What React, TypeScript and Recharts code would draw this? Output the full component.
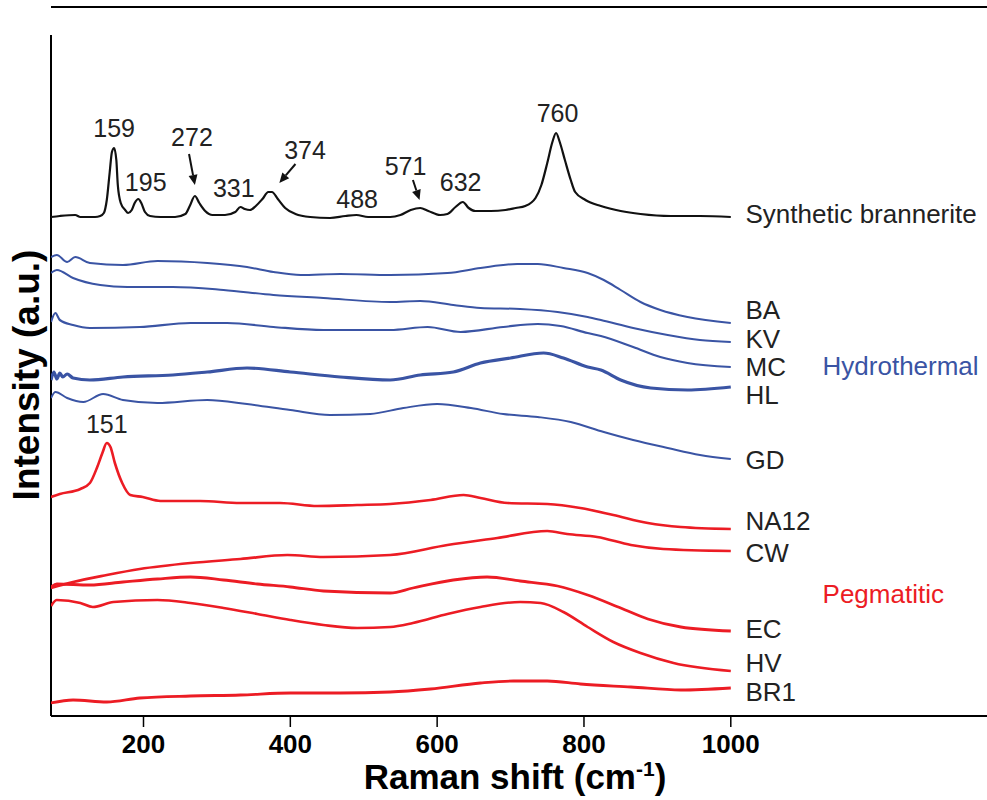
import { LineChart, Line, XAxis, YAxis, ReferenceLine, ReferenceDot } from "recharts";

const FONT = "'Liberation Sans', Arial, Helvetica, sans-serif";
const BLACK = "#111111";
const BLUE = "#3a54a4";
const RED = "#ec1c24";
const TEXT = "#222222";

// Raman shift (cm-1) vs stacked intensity (a.u., offset per sample)
const synthetic: [number, number][] = [
  [74, 499], [86, 500], [107, 501], [114, 499], [134, 499], [141, 500], [146, 503], [150, 516],
  [154, 544], [157, 564], [160, 568], [163, 556], [165, 531], [169, 513], [175, 506], [179, 503],
  [184, 506], [188, 513], [193, 517], [197, 513], [202, 504], [209, 500], [223, 499], [243, 499],
  [257, 502], [263, 510], [270, 520], [276, 513], [284, 505], [294, 501], [311, 501], [325, 504],
  [332, 509], [338, 507], [345, 506], [353, 510], [362, 517], [370, 524], [375, 524], [383, 517],
  [393, 508], [407, 502], [427, 499], [454, 498], [475, 500], [490, 501], [506, 499], [536, 499],
  [550, 501], [564, 506], [577, 508], [588, 505], [604, 501], [614, 502], [625, 509], [635, 514],
  [643, 508], [652, 505], [673, 505], [693, 506], [707, 508], [720, 510], [734, 518], [742, 531],
  [750, 553], [757, 574], [762, 583], [767, 574], [774, 556], [782, 536], [788, 524], [802, 516],
  [823, 510], [850, 505], [877, 502], [918, 500], [958, 500], [1000, 499],
];

const ba: [number, number][] = [
  [74, 459], [82, 461], [96, 454], [107, 459], [127, 453], [172, 451], [219, 455], [287, 453],
  [341, 449], [377, 444], [414, 441], [468, 442], [536, 441], [614, 443], [659, 448], [709, 452],
  [737, 452], [772, 448], [805, 443], [827, 436], [850, 426], [877, 414], [904, 406], [941, 399],
  [1000, 393],
];

const kv: [number, number][] = [
  [74, 443], [82, 446], [104, 438], [141, 431], [178, 429], [240, 429], [309, 426], [377, 421],
  [445, 418], [536, 414], [577, 415], [622, 411], [659, 408], [713, 407], [764, 404], [805, 399],
  [823, 396], [867, 388], [914, 381], [958, 376], [1000, 374],
];

const mc: [number, number][] = [
  [74, 394], [80, 403], [86, 396], [104, 391], [127, 388], [195, 389], [264, 393], [314, 393],
  [377, 389], [445, 386], [536, 386], [587, 389], [632, 384], [690, 389], [737, 392], [768, 390],
  [805, 383], [823, 380], [867, 369], [904, 359], [941, 353], [1000, 349],
];

const hl: [number, number][] = [
  [74, 336], [78, 344], [82, 337], [86, 343], [90, 339], [96, 342], [104, 338], [127, 336],
  [172, 339], [240, 341], [287, 344], [341, 348], [400, 344], [468, 339], [536, 336], [577, 341],
  [622, 344], [659, 353], [700, 358], [745, 363], [772, 358], [805, 349], [823, 346], [850, 336],
  [891, 328], [941, 326], [1000, 329],
];

const gd: [number, number][] = [
  [74, 318], [80, 324], [96, 318], [118, 314], [145, 322], [172, 316], [219, 313], [287, 316],
  [341, 312], [400, 306], [454, 301], [509, 302], [554, 308], [600, 312], [646, 308], [690, 302],
  [737, 299], [782, 294], [827, 284], [867, 276], [914, 268], [958, 261], [1000, 257],
];

const na12: [number, number][] = [
  [74, 219], [86, 222], [114, 227], [127, 233], [137, 249], [144, 263], [150, 273], [155, 269],
  [161, 253], [171, 233], [182, 221], [199, 219], [223, 215], [277, 215], [332, 213], [386, 213],
  [437, 210], [491, 211], [536, 212], [591, 216], [636, 221], [659, 218], [696, 213], [750, 212],
  [795, 208], [840, 201], [887, 193], [932, 189], [1000, 187],
];

const cw: [number, number][] = [
  [74, 128], [104, 134], [150, 141], [195, 147], [264, 153], [332, 157], [396, 161], [445, 159],
  [536, 161], [614, 171], [682, 178], [750, 185], [777, 182], [818, 179], [864, 171], [908, 167],
  [1000, 165],
];

const ec: [number, number][] = [
  [74, 129], [82, 132], [127, 131], [172, 134], [219, 137], [264, 139], [309, 136], [355, 132],
  [400, 129], [445, 125], [536, 123], [567, 128], [622, 136], [668, 139], [713, 135], [764, 130],
  [805, 121], [850, 108], [887, 97], [932, 89], [1000, 85],
];

const hv: [number, number][] = [
  [74, 110], [82, 116], [114, 113], [131, 109], [159, 114], [219, 116], [264, 113], [309, 108],
  [355, 102], [400, 96], [445, 91], [491, 88], [536, 89], [567, 93], [614, 102], [659, 109],
  [713, 114], [741, 113], [772, 104], [805, 89], [840, 74], [877, 63], [922, 53], [1000, 45],
];

const br1: [number, number][] = [
  [74, 13], [104, 16], [150, 14], [195, 18], [264, 20], [332, 21], [400, 23], [468, 23],
  [536, 24], [591, 27], [659, 33], [704, 35], [750, 35], [795, 32], [864, 29], [932, 26],
  [1000, 28],
];

const xTicks = [200, 400, 600, 800, 1000];

// sample name, points, colour, label height
const series = [
  { name: "Synthetic brannerite", pts: synthetic, color: BLACK, width: 2.2, labelY: 502 },
  { name: "BA", pts: ba, color: BLUE, width: 2, labelY: 406 },
  { name: "KV", pts: kv, color: BLUE, width: 2, labelY: 377 },
  { name: "MC", pts: mc, color: BLUE, width: 2.2, labelY: 349 },
  { name: "HL", pts: hl, color: BLUE, width: 3.2, labelY: 321 },
  { name: "GD", pts: gd, color: BLUE, width: 2, labelY: 256 },
  { name: "NA12", pts: na12, color: RED, width: 2.6, labelY: 195 },
  { name: "CW", pts: cw, color: RED, width: 2.6, labelY: 163 },
  { name: "EC", pts: ec, color: RED, width: 2.8, labelY: 87 },
  { name: "HV", pts: hv, color: RED, width: 2.6, labelY: 53 },
  { name: "BR1", pts: br1, color: RED, width: 2.8, labelY: 24 },
];

const peakLabels = [
  { x: 160, y: 588, text: "159" },
  { x: 203, y: 534, text: "195" },
  { x: 266, y: 579, text: "272" },
  { x: 323, y: 528, text: "331" },
  { x: 420, y: 566, text: "374" },
  { x: 491, y: 517, text: "488" },
  { x: 557, y: 550, text: "571" },
  { x: 632, y: 534, text: "632" },
  { x: 764, y: 603, text: "760" },
  { x: 150, y: 292, text: "151" },
];

const arrows = [
  { from: [262, 562], to: [270, 531] },
  { from: [407, 552], to: [385, 533] },
  { from: [567, 536], to: [576, 516] },
];

const groups = [
  { x: 1125, y: 350, text: "Hydrothermal", color: BLUE },
  { x: 1125, y: 122, text: "Pegmatitic", color: RED },
];

const arrowShape = (p: any) => {
  const { x1, y1, x2, y2 } = p;
  const dx = x2 - x1;
  const dy = y2 - y1;
  const len = Math.hypot(dx, dy) || 1;
  const ux = dx / len;
  const uy = dy / len;
  const hl = 10;
  const hw = 4.5;
  const bx = x2 - ux * hl;
  const by = y2 - uy * hl;
  const pts = `${x2},${y2} ${bx - uy * hw},${by + ux * hw} ${bx + uy * hw},${by - ux * hw}`;
  return (
    <g>
      <line x1={x1} y1={y1} x2={bx} y2={by} stroke={BLACK} strokeWidth={2} />
      <polygon points={pts} fill={BLACK} />
    </g>
  );
};

const textShape = (text: string, fill: string, anchor: "start" | "middle", size: number) => (p: any) => (
  <text
    x={p.cx}
    y={p.cy}
    textAnchor={anchor}
    dominantBaseline="central"
    fontFamily={FONT}
    fontSize={size}
    fill={fill}
  >
    {text}
  </text>
);

const yTitleShape = (p: any) => (
  <text
    x={p.cx}
    y={p.cy}
    transform={`rotate(-90 ${p.cx} ${p.cy})`}
    textAnchor="middle"
    dominantBaseline="central"
    fontFamily={FONT}
    fontSize={37}
    fontWeight={700}
    fill="#000"
  >
    Intensity (a.u.)
  </text>
);

const xTitle = (p: any) => {
  const vb = p.viewBox;
  return (
    <text x={vb.x + 464} y={vb.y + 73} textAnchor="middle" fontFamily={FONT} fontSize={35} fontWeight={700} fill="#000">
      Raman shift (cm
      <tspan dy={-13} fontSize={21}>-1</tspan>
      <tspan dy={13}>)</tspan>
    </text>
  );
};

export default function App() {
  return (
    <div style={{ position: "absolute", left: 0, top: 0, width: 987, height: 800, background: "#fff" }}>
      <LineChart width={987} height={800} margin={{ top: 7, right: 0, bottom: 0, left: 51 }}>
        <XAxis
          dataKey="x"
          type="number"
          domain={[74, 1349]}
          allowDataOverflow
          ticks={xTicks}
          height={84}
          tickSize={11}
          tickMargin={8}
          axisLine={{ stroke: "#000", strokeWidth: 2 }}
          tickLine={{ stroke: "#000", strokeWidth: 1.5 }}
          tick={{ fontSize: 26, fontWeight: 700, fill: "#000", fontFamily: FONT }}
          label={xTitle}
        />
        <YAxis type="number" dataKey="v" domain={[0, 709]} allowDataOverflow hide />

        <ReferenceLine y={709} stroke="#000" strokeWidth={2} ifOverflow="visible" />
        <ReferenceLine
          segment={[{ x: 74, y: 0 }, { x: 74, y: 681 }]}
          stroke="#000"
          strokeWidth={2}
          ifOverflow="visible"
        />

        {series.map((s) => (
          <Line
            key={s.name}
            data={s.pts.map(([x, v]) => ({ x, v }))}
            dataKey="v"
            name={s.name}
            type="monotone"
            stroke={s.color}
            strokeWidth={s.width}
            dot={false}
            activeDot={false}
            isAnimationActive={false}
          />
        ))}

        {series.map((s) => (
          <ReferenceDot
            key={`lbl-${s.name}`}
            x={1020}
            y={s.labelY}
            r={1}
            ifOverflow="visible"
            shape={textShape(s.name, TEXT, "start", 26)}
          />
        ))}

        {groups.map((g) => (
          <ReferenceDot
            key={g.text}
            x={g.x}
            y={g.y}
            r={1}
            ifOverflow="visible"
            shape={textShape(g.text, g.color, "start", 26)}
          />
        ))}

        {peakLabels.map((p) => (
          <ReferenceDot
            key={p.text}
            x={p.x}
            y={p.y}
            r={1}
            ifOverflow="visible"
            shape={textShape(p.text, TEXT, "middle", 25)}
          />
        ))}

        {arrows.map((a, i) => (
          <ReferenceLine
            key={`arrow-${i}`}
            segment={[{ x: a.from[0], y: a.from[1] }, { x: a.to[0], y: a.to[1] }]}
            ifOverflow="visible"
            shape={arrowShape}
          />
        ))}

        <ReferenceDot x={41} y={341} r={1} ifOverflow="visible" shape={yTitleShape} />
      </LineChart>
    </div>
  );
}
